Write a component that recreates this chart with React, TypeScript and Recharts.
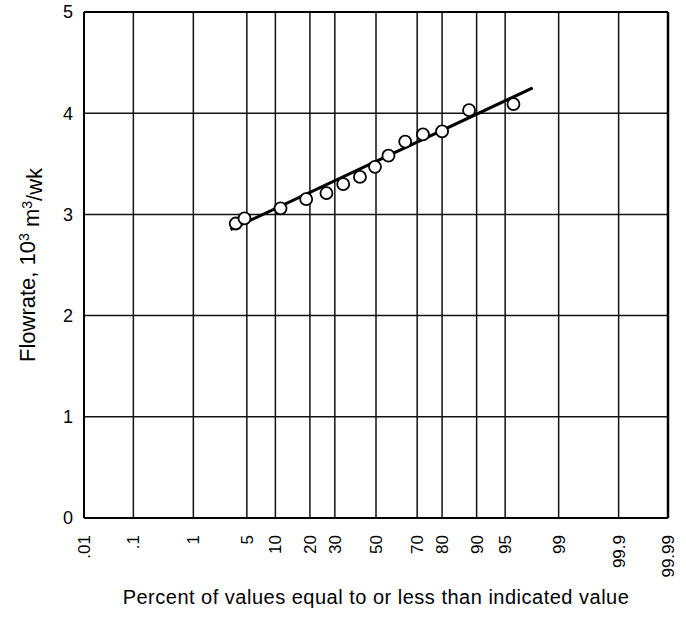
import { ScatterChart, Scatter, XAxis, YAxis, CartesianGrid, ReferenceLine, Label } from 'recharts';

// percent of values <= indicated value
const pointPercent = [3.7, 4.7, 11.2, 18.7, 26.4, 33.8, 41.9, 49.5, 56.3, 64.5, 72.5, 80.0, 88.2, 96.0];
const pointFlow = [2.91, 2.96, 3.06, 3.15, 3.21, 3.3, 3.37, 3.47, 3.58, 3.72, 3.79, 3.82, 4.03, 4.09];

// fitted straight line (ends)
const fitPercent = [3.2, 97.7];
const fitFlow = [2.85, 4.25];

const tickPercent = [0.01, 0.1, 1, 5, 10, 20, 30, 50, 70, 80, 90, 95, 99, 99.9, 99.99];
const tickLabels = ['.01', '.1', '1', '5', '10', '20', '30', '50', '70', '80', '90', '95', '99', '99.9', '99.99'];
const flowTicks = [0, 1, 2, 3, 4, 5];

const FONT = '"Liberation Sans", Arial, Helvetica, sans-serif';

// inverse normal cdf (Acklam) -> normal probability scale
function probit(p: number): number {
  const a = [-3.969683028665376e1, 2.209460984245205e2, -2.759285104469687e2, 1.38357751867269e2, -3.066479806614716e1, 2.506628277459239];
  const b = [-5.447609879822406e1, 1.615858368580409e2, -1.556989798598866e2, 6.680131188771972e1, -1.328068155288572e1];
  const c = [-7.784894002430293e-3, -3.223964580411365e-1, -2.400758277161838, -2.549732539343734, 4.374664141464968, 2.938163982698783];
  const d = [7.784695709041462e-3, 3.224671290700398e-1, 2.445134137142996, 3.754408661907416];
  const pl = 0.02425;
  if (p < pl) {
    const q = Math.sqrt(-2 * Math.log(p));
    return (((((c[0] * q + c[1]) * q + c[2]) * q + c[3]) * q + c[4]) * q + c[5]) / ((((d[0] * q + d[1]) * q + d[2]) * q + d[3]) * q + 1);
  }
  if (p > 1 - pl) {
    const q = Math.sqrt(-2 * Math.log(1 - p));
    return -(((((c[0] * q + c[1]) * q + c[2]) * q + c[3]) * q + c[4]) * q + c[5]) / ((((d[0] * q + d[1]) * q + d[2]) * q + d[3]) * q + 1);
  }
  const q = p - 0.5;
  const r = q * q;
  return ((((((a[0] * r + a[1]) * r + a[2]) * r + a[3]) * r + a[4]) * r + a[5]) * q) / (((((b[0] * r + b[1]) * r + b[2]) * r + b[3]) * r + b[4]) * r + 1);
}

const z = (pct: number) => probit(pct / 100);

const points = pointPercent.map((p, i) => ({ z: z(p), flow: pointFlow[i] }));
const fit = fitPercent.map((p, i) => ({ z: z(p), flow: fitFlow[i] }));
const xTicks = tickPercent.map(z);
const xDomain = [xTicks[0], xTicks[xTicks.length - 1]];

const PercentTick = (props: any) => {
  const { x, y, index } = props;
  const ty = y + 9;
  return (
    <text x={x} y={ty} dy="0.36em" transform={`rotate(-90 ${x} ${ty})`} textAnchor="end" fontSize={17} fontFamily={FONT} fill="#000">
      {tickLabels[index]}
    </text>
  );
};

const FlowLabel = (props: any) => {
  const vb = props.viewBox || {};
  const cx = 27;
  const cy = vb.y + vb.height / 2;
  return (
    <text x={cx} y={cy} dy="0.36em" transform={`rotate(-90 ${cx} ${cy})`} textAnchor="middle" fontSize={22} fontFamily={FONT} fill="#000">
      Flowrate, 10<tspan dy="-0.45em" fontSize={14}>3</tspan>
      <tspan dy="0.45em"> m</tspan>
      <tspan dy="-0.45em" fontSize={14}>3</tspan>
      <tspan dy="0.45em">/wk</tspan>
    </text>
  );
};

const Ring = (props: any) => (
  <circle cx={props.cx} cy={props.cy} r={6} fill="#fff" stroke="#000" strokeWidth={1.8} />
);

export default function App() {
  return (
    <div style={{ position: 'absolute', left: 0, top: 0, background: '#fff' }}>
      <ScatterChart width={686} height={617} margin={{ top: 12, right: 18, bottom: 0, left: 0 }}>
        <CartesianGrid stroke="#111" strokeWidth={1.5} />
        <XAxis
          type="number"
          dataKey="z"
          domain={xDomain}
          ticks={xTicks}
          interval={0}
          allowDataOverflow
          height={99}
          tickLine={false}
          axisLine={{ stroke: '#000', strokeWidth: 2 }}
          tick={<PercentTick />}
        >
          <Label
            value="Percent of values equal to or less than indicated value"
            position="insideBottom"
            offset={13}
            style={{ fontSize: 20, fontFamily: FONT, fill: '#000', letterSpacing: 0.5 }}
          />
        </XAxis>
        <YAxis
          type="number"
          dataKey="flow"
          domain={[0, 5]}
          ticks={flowTicks}
          interval={0}
          width={84}
          tickLine={false}
          tickSize={0}
          tickMargin={11}
          axisLine={{ stroke: '#000', strokeWidth: 2 }}
          tick={{ fontSize: 18, fontFamily: FONT, fill: '#000' }}
        >
          <Label content={<FlowLabel />} />
        </YAxis>
        <ReferenceLine y={5} stroke="#000" strokeWidth={2} />
        <ReferenceLine x={xDomain[1]} stroke="#000" strokeWidth={2.5} />
        <Scatter data={fit} line={{ stroke: '#000', strokeWidth: 3 }} lineType="joint" shape={() => <g />} isAnimationActive={false} />
        <Scatter data={points} shape={<Ring />} isAnimationActive={false} />
      </ScatterChart>
    </div>
  );
}
